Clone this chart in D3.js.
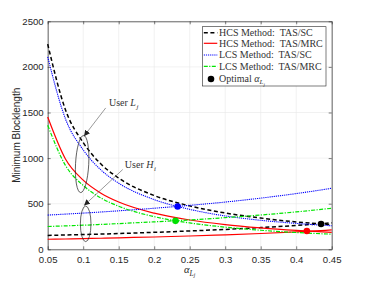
<!DOCTYPE html>
<html>
<head>
<meta charset="utf-8">
<script src="https://cdn.jsdelivr.net/npm/d3@7"></script>
<style>
  body { margin: 0; background: #fff; }
  text { white-space: pre; }
</style>
</head>
<body>
<div id="chart"></div>
<script>
// Chart size and plot area
const width = 367;
const height = 281;
const margin = {top: 21.3, right: 35.3, bottom: 31.7, left: 47.7};
const innerW = width - margin.left - margin.right;
const innerH = height - margin.top - margin.bottom;

// Data
const alphas = [0.05, 0.075, 0.1, 0.125, 0.15, 0.2, 0.25, 0.3, 0.35, 0.4, 0.45];
const hcsScL  = [2250, 1530, 1170, 935, 780, 590, 476, 398, 343, 300, 270];
const hcsScH  = [152, 157, 162, 167, 173, 186, 201, 218, 238, 261, 290];
const hcsMrcL = [1450, 990, 758, 615, 518, 396, 321, 271, 235, 207, 185];
const hcsMrcH = [110, 113, 117, 121, 126, 135, 146, 159, 173, 191, 212];
const lcsScL  = [2110, 1430, 1090, 870, 725, 545, 438, 366, 318, 284, 258];
const lcsScH  = [375, 386, 397, 409, 422, 450, 482, 518, 561, 611, 669];
const lcsMrcL = [1360, 920, 700, 563, 472, 358, 289, 243, 209, 184, 166];
const lcsMrcH = [250, 257, 264, 273, 282, 301, 322, 347, 376, 410, 450];

// Optimal alpha points (black, red, blue, green)
const optAlpha = [0.435, 0.415, 0.233, 0.23];
const optValue = [277, 200, 470, 312];

const xTicks = [0.05, 0.1, 0.15, 0.2, 0.25, 0.3, 0.35, 0.4, 0.45];
const yTicks = [0, 500, 1000, 1500, 2000, 2500];
const legendLabels = ["HCS Method:  TAS/SC", "HCS Method:  TAS/MRC", "LCS Method:  TAS/SC", "LCS Method:  TAS/MRC"];

// Line styles for each method
const styles = [
    {color: "#000000", width: 1.5, dash: "4,2.6"},
    {color: "#ff0000", width: 1.2, dash: null},
    {color: "#0000ff", width: 1.1, dash: "1.2,0.9"},
    {color: "#00e600", width: 1.2, dash: "4,1.4,1.2,1.4"}
];
const optColors = ["#000000", "#ff0000", "#0000ff", "#00e000"];

const series = [
    {style: 0, values: hcsScL}, {style: 0, values: hcsScH},
    {style: 1, values: hcsMrcL}, {style: 1, values: hcsMrcH},
    {style: 2, values: lcsScL}, {style: 2, values: lcsScH},
    {style: 3, values: lcsMrcL}, {style: 3, values: lcsMrcH}
];

const svg = d3.select("#chart")
    .append("svg")
    .attr("width", width)
    .attr("height", height);

const g = svg.append("g")
    .attr("transform", `translate(${margin.left},${margin.top})`);

const x = d3.scaleLinear().domain([0.05, 0.45]).range([0, innerW]);
const y = d3.scaleLinear().domain([0, 2500]).range([innerH, 0]);

// Grid lines
g.append("g").selectAll("line")
    .data(xTicks)
    .enter().append("line")
    .attr("x1", d => x(d)).attr("x2", d => x(d))
    .attr("y1", 0).attr("y2", innerH)
    .attr("stroke", "#e8e8e8").attr("stroke-width", 0.6);
g.append("g").selectAll("line")
    .data(yTicks)
    .enter().append("line")
    .attr("x1", 0).attr("x2", innerW)
    .attr("y1", d => y(d)).attr("y2", d => y(d))
    .attr("stroke", "#e8e8e8").attr("stroke-width", 0.6);

// Axes (ticks pointing inwards, box on all sides)
const axisColor = "#262626";
function styleAxis(sel) {
    sel.select(".domain").attr("stroke", axisColor).attr("stroke-width", 0.7);
    sel.selectAll(".tick line").attr("stroke", axisColor).attr("stroke-width", 0.6);
    sel.selectAll(".tick text")
        .attr("fill", axisColor)
        .style("font-family", "'Liberation Sans', Arial, sans-serif")
        .style("font-size", "9.6px");
}
const fmtX = d => String(+d.toFixed(2));

g.append("g")
    .attr("transform", `translate(0,${innerH})`)
    .call(d3.axisBottom(x).tickValues(xTicks).tickFormat(fmtX).tickSizeInner(-3).tickSizeOuter(0).tickPadding(7))
    .call(styleAxis);
g.append("g")
    .call(d3.axisTop(x).tickValues(xTicks).tickFormat("").tickSizeInner(-3).tickSizeOuter(0))
    .call(styleAxis);
g.append("g")
    .call(d3.axisLeft(y).tickValues(yTicks).tickFormat(d => String(d)).tickSizeInner(-3).tickSizeOuter(0).tickPadding(4))
    .call(styleAxis);
g.append("g")
    .attr("transform", `translate(${innerW},0)`)
    .call(d3.axisRight(y).tickValues(yTicks).tickFormat("").tickSizeInner(-3).tickSizeOuter(0))
    .call(styleAxis);

// Curves
const line = d3.line()
    .x((d, i) => x(alphas[i]))
    .y(d => y(d))
    .curve(d3.curveMonotoneX);

g.append("g").selectAll("path")
    .data(series)
    .enter().append("path")
    .attr("d", d => line(d.values))
    .attr("fill", "none")
    .attr("stroke", d => styles[d.style].color)
    .attr("stroke-width", d => styles[d.style].width)
    .attr("stroke-dasharray", d => styles[d.style].dash);

// Optimal points
g.append("g").selectAll("circle")
    .data(optAlpha)
    .enter().append("circle")
    .attr("cx", d => x(d))
    .attr("cy", (d, i) => y(optValue[i]))
    .attr("r", 3.3)
    .attr("fill", (d, i) => optColors[i]);

// Ellipses and arrows for the user annotations
const serif = "'Liberation Serif', 'DejaVu Serif', serif";
g.append("ellipse")
    .attr("cx", x(0.0985)).attr("cy", y(935))
    .attr("rx", 6.6).attr("ry", 28.6)
    .attr("transform", `rotate(3,${x(0.0985)},${y(935)})`)
    .attr("fill", "none").attr("stroke", "#222").attr("stroke-width", 0.7);
g.append("ellipse")
    .attr("cx", x(0.1035)).attr("cy", y(279))
    .attr("rx", 5.3).attr("ry", 17.8)
    .attr("fill", "none").attr("stroke", "#222").attr("stroke-width", 0.7);

svg.append("defs").append("marker")
    .attr("id", "arrow")
    .attr("viewBox", "0 0 10 10")
    .attr("refX", 10).attr("refY", 5)
    .attr("markerWidth", 6).attr("markerHeight", 6)
    .attr("markerUnits", "userSpaceOnUse")
    .attr("orient", "auto")
    .append("path").attr("d", "M0,0 L10,5 L0,10 Z").attr("fill", "#222");

const arrows = [
    {from: [0.1317, 1550], to: [0.1011, 1240]},
    {from: [0.1557, 875], to: [0.1012, 480]}
];
g.append("g").selectAll("line")
    .data(arrows)
    .enter().append("line")
    .attr("x1", d => x(d.from[0])).attr("y1", d => y(d.from[1]))
    .attr("x2", d => x(d.to[0])).attr("y2", d => y(d.to[1]))
    .attr("stroke", "#555").attr("stroke-width", 0.6)
    .attr("marker-end", "url(#arrow)");

function userLabel(px, py, letter, sub) {
    const t = g.append("text")
        .attr("x", px).attr("y", py)
        .attr("fill", "#333")
        .style("font-family", serif)
        .style("font-size", "10px");
    t.append("tspan").text("User ");
    t.append("tspan").style("font-style", "italic").text(letter);
    t.append("tspan").style("font-style", "italic").style("font-size", "7px")
        .attr("dy", 2.5).attr("dx", 0.5).text(sub);
}
userLabel(x(0.1363), y(1560) - 1, "L", "j");
userLabel(x(0.1587), y(880) - 1, "H", "i");

// Axis labels
svg.append("text")
    .attr("transform", `translate(20,${margin.top + innerH / 2}) rotate(-90)`)
    .attr("text-anchor", "middle")
    .attr("fill", axisColor)
    .style("font-family", "'Liberation Sans', Arial, sans-serif")
    .style("font-size", "10px")
    .text("Minimum Blocklength");

const xl = svg.append("text")
    .attr("x", margin.left + innerW / 2)
    .attr("y", 273)
    .attr("text-anchor", "middle")
    .attr("fill", axisColor)
    .style("font-family", serif)
    .style("font-style", "italic")
    .style("font-size", "10.5px");
xl.append("tspan").text("α");
xl.append("tspan").style("font-size", "7.5px").attr("dy", 2.5).text("L");
xl.append("tspan").style("font-size", "5.5px").attr("dy", 1.5).text("j");

// Legend
const legend = svg.append("g").attr("transform", "translate(202.3,26.7)");
legend.append("rect")
    .attr("width", 123.7).attr("height", 59.3)
    .attr("fill", "#fff")
    .attr("stroke", axisColor).attr("stroke-width", 0.6);

const rowY = [6, 16.6, 28.3, 39.6];
legend.selectAll("line.sample")
    .data(styles)
    .enter().append("line")
    .attr("class", "sample")
    .attr("x1", 1.5).attr("x2", 15)
    .attr("y1", (d, i) => rowY[i]).attr("y2", (d, i) => rowY[i])
    .attr("stroke", d => d.color)
    .attr("stroke-width", d => d.width)
    .attr("stroke-dasharray", d => d.dash);
legend.selectAll("text.lab")
    .data(legendLabels)
    .enter().append("text")
    .attr("class", "lab")
    .attr("x", 16.7)
    .attr("y", (d, i) => rowY[i] + 3.5)
    .attr("fill", "#333")
    .style("font-family", serif)
    .style("font-size", "10px")
    .text(d => d);

legend.append("circle")
    .attr("cx", 8.7).attr("cy", 52.3).attr("r", 3.3).attr("fill", "#000");
const opt = legend.append("text")
    .attr("x", 16.7).attr("y", 55.5)
    .attr("fill", "#333")
    .style("font-family", serif)
    .style("font-size", "10px");
opt.append("tspan").text("Optimal ");
opt.append("tspan").style("font-style", "italic").text("α");
opt.append("tspan").style("font-style", "italic").style("font-size", "7px").attr("dy", 2).text("L");
opt.append("tspan").style("font-style", "italic").style("font-size", "5px").attr("dy", 1.5).text("j");
</script>
</body>
</html>
